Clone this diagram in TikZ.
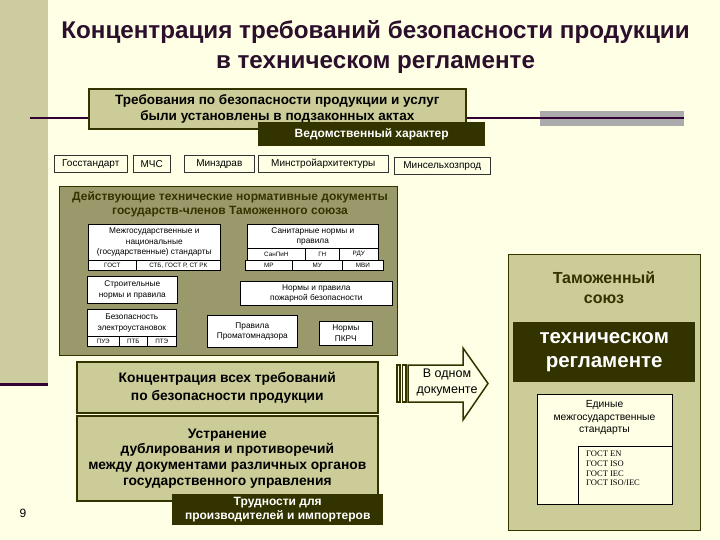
\documentclass[tikz,border=0pt]{standalone}
\usepackage{fontspec}
\setmainfont{Liberation Sans}
\newfontfamily\serifr{Liberation Serif}
\definecolor{bg}{HTML}{FFFFE6}
\definecolor{lbar}{HTML}{CCCC9E}
\definecolor{olv}{HTML}{CCCC99}
\definecolor{dko}{HTML}{333300}
\definecolor{bigol}{HTML}{99996B}
\definecolor{purp}{HTML}{330033}
\definecolor{grayr}{HTML}{ABABAB}
\definecolor{ttl}{HTML}{2B0F2B}
\begin{document}
\begin{tikzpicture}[x=1pt,y=-1pt,
  olvbox/.style={draw=dko,fill=olv,line width=1.6pt,inner sep=0pt,align=center,anchor=north west,text=black},
  darkbox/.style={fill=dko,text=white,inner sep=0pt,align=center,anchor=north west},
  wbox/.style={draw=black,fill=white,line width=0.6pt,inner sep=0pt,align=center,anchor=north west,font=\fontsize{8.3}{10.5}\selectfont},
  cell/.style={wbox,font=\fontsize{6.3}{7}\selectfont},
  minbox/.style={draw=black!80,fill=bg,line width=0.6pt,inner sep=0pt,anchor=north west,minimum height=17pt,font=\fontsize{10}{11}\selectfont},
  plain/.style={inner sep=0pt,align=center}]
\useasboundingbox (0,0) rectangle (720,540);
\fill[bg] (0,0) rectangle (720,540);
% left bar
\fill[lbar] (0,0) rectangle (48,383);
\draw[purp,line width=3pt] (0,384.5) -- (48,384.5);
% title
\node[plain,font=\bfseries\fontsize{24.2}{30}\selectfont,text=ttl] (title) at (375.5,47) {Концентрация требований безопасности продукции\\в техническом регламенте};
% top line
\fill[grayr] (540,111) rectangle (684,126);
\coordinate (la) at (30,118);
\coordinate (lb) at (684,118);
\draw[purp,line width=2pt] (la) -- (lb);
\node[olvbox,minimum width=377pt,minimum height=40pt,font=\bfseries\fontsize{13.5}{16}\selectfont] (req) at (88,88) {Требования по безопасности продукции и услуг\\были установлены в подзаконных актах};
\node[darkbox,minimum width=227pt,minimum height=24pt,font=\bfseries\fontsize{12}{13}\selectfont] (ved) at (258,122) {Ведомственный характер};
% ministries
\node[minbox,minimum width=73pt] (m1) at (54,155) {Госстандарт};
\node[minbox,minimum width=37pt] (m2) at (133,155) {МЧС};
\node[minbox,minimum width=70pt] (m3) at (184,155) {Минздрав};
\node[minbox,minimum width=130pt] (m4) at (258,155) {Минстройархитектуры};
\node[minbox,minimum width=96pt] (m5) at (394,157) {Минсельхозпрод};
% big documents box
\node[draw=dko,fill=bigol,line width=0.8pt,minimum width=338pt,minimum height=169pt,anchor=north west,inner sep=0pt] (docs) at (59,186) {};
\node[plain,font=\bfseries\fontsize{12}{14}\selectfont,text=dko] (docst) at (230,204) {Действующие технические нормативные документы\\государств-членов Таможенного союза};
% interstate standards
\node[wbox,minimum width=132pt,minimum height=36pt] (mg) at (88,224) {Межгосударственные и\\национальные\\(государственные) стандарты};
\node[cell,minimum width=48pt,minimum height=10pt] (mg1) at (88,260) {ГОСТ};
\node[cell,minimum width=84pt,minimum height=10pt] (mg2) at (136,260) {СТБ, ГОСТ Р, СТ РК};
% sanitary
\node[wbox,minimum width=131pt,minimum height=24pt] (san) at (247,224) {Санитарные нормы и\\правила};
\node[cell,minimum width=58pt,minimum height=12pt] (s1) at (247,248) {СанПиН};
\node[cell,minimum width=34pt,minimum height=12pt] (s2) at (305,248) {ГН};
\node[cell,minimum width=39pt,minimum height=12pt] (s3) at (339,248) {РДУ};
\node[cell,minimum width=47pt,minimum height=10pt] (s4) at (245,260) {МР};
\node[cell,minimum width=50pt,minimum height=10pt] (s5) at (292,260) {МУ};
\node[cell,minimum width=41pt,minimum height=10pt] (s6) at (342,260) {МВИ};
% building
\node[wbox,minimum width=90pt,minimum height=27pt] (bld) at (87,276) {Строительные\\нормы и правила};
\node[wbox,minimum width=152pt,minimum height=24pt] (fire) at (240,281) {Нормы и правила\\пожарной безопасности};
% electrical
\node[wbox,minimum width=89pt,minimum height=27pt] (el) at (87,309) {Безопасность\\электроустановок};
\node[cell,minimum width=32pt,minimum height=10pt] (e1) at (87,336) {ПУЭ};
\node[cell,minimum width=28pt,minimum height=10pt] (e2) at (119,336) {ПТБ};
\node[cell,minimum width=29pt,minimum height=10pt] (e3) at (147,336) {ПТЭ};
\node[wbox,minimum width=90pt,minimum height=32pt] (pan) at (207,315) {Правила\\Проматомнадзора};
\node[wbox,minimum width=53pt,minimum height=24pt] (pkrch) at (319,321) {Нормы\\ПКРЧ};
% lower boxes
\node[olvbox,minimum width=301pt,minimum height=51pt,font=\bfseries\fontsize{13.8}{18}\selectfont] (conc) at (76,361) {Концентрация всех требований\\по безопасности продукции};
\node[olvbox,minimum width=301pt,minimum height=85pt,font=\bfseries\fontsize{13.8}{15.7}\selectfont] (elim) at (76,415) {Устранение\\дублирования и противоречий\\между документами различных органов\\государственного управления};
\node[darkbox,minimum width=211pt,minimum height=31pt,font=\bfseries\fontsize{12}{14}\selectfont] (diff) at (172,494) {Трудности для\\производителей и импортеров};
% arrow
\draw[draw=dko,fill=bg,line width=1.5pt,line join=miter] (408,365) -- (463,365) -- (463,348) -- (488,383.5) -- (463,420) -- (463,402) -- (408,402) -- cycle;
\draw[draw=dko,fill=bg,line width=1.2pt] (397,365) rectangle (400,402);
\draw[draw=dko,fill=bg,line width=1.2pt] (402.5,365) rectangle (406,402);
\node[plain,font=\fontsize{12.5}{16}\selectfont] (one) at (447,382) {В одном\\документе};
% customs union
\node[draw=dko,fill=olv,line width=0.8pt,minimum width=192pt,minimum height=276pt,anchor=north west,inner sep=0pt] (ts) at (508,254) {};
\node[plain,font=\bfseries\fontsize{16}{20}\selectfont,text=dko] (tst) at (604,288) {Таможенный\\союз};
\node[darkbox,minimum width=182pt,minimum height=60pt,font=\bfseries\fontsize{20.5}{24}\selectfont] (treg) at (513,322) {техническом\\регламенте};
\node[draw=black,fill=bg,line width=0.6pt,minimum width=135pt,minimum height=110pt,anchor=north west,inner sep=0pt] (uni) at (537,394) {};
\node[plain,font=\fontsize{10.3}{12.5}\selectfont] (unit) at (604.5,418) {Единые\\межгосударственные\\стандарты};
\node[draw=black,fill=bg,line width=0.6pt,minimum width=94pt,minimum height=58pt,anchor=north west,inner sep=0pt] (gost) at (578,446) {};
\node[inner sep=0pt,align=left,anchor=north west,font=\serifr\fontsize{8.5}{9.6}\selectfont] (gostt) at (586,451) {ГОСТ EN\\ГОСТ ISO\\ГОСТ IEC\\ГОСТ ISO/IEC};
% page number
\node[plain,font=\fontsize{12}{14}\selectfont] (pg) at (23,513) {9};
\end{tikzpicture}
\end{document}
